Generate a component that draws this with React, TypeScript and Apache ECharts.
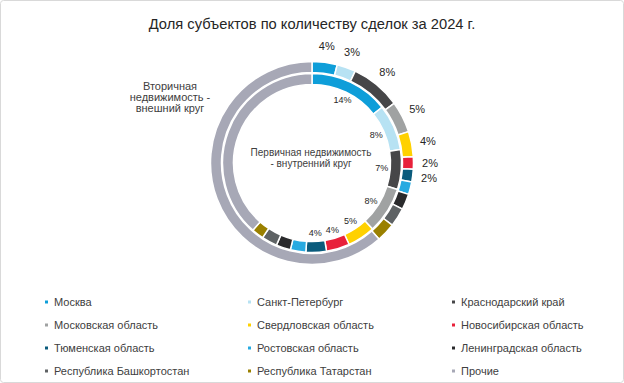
import React, { useEffect, useRef } from "react";
import * as echarts from "echarts";

const TITLE = "Доля субъектов по количеству сделок за 2024 г.";
const CATEGORIES = [
  "Москва",
  "Санкт-Петербург",
  "Краснодарский край",
  "Московская область",
  "Свердловская область",
  "Новосибирская область",
  "Тюменская область",
  "Ростовская область",
  "Ленинградская область",
  "Республика Башкортостан",
  "Республика Татарстан",
  "Прочие",
];
// Secondary market (outer ring), %
const SECONDARY = [4, 3, 8, 5, 4, 2, 2, 2, 2.5, 3, 3, 61.5];
// Primary market (inner ring), %
const PRIMARY = [14.3, 8.3, 7.2, 8.4, 5, 4.2, 3.7, 2.8, 2.6, 2.8, 2.2, 38.5];
const LABELED_COUNT = 7;
const COLORS = [
  "#0e9ed9",
  "#b7e2f3",
  "#464648",
  "#a0a2a2",
  "#ffd100",
  "#e8213a",
  "#0a5b7c",
  "#27aae1",
  "#2a2a2c",
  "#5e6264",
  "#9a8000",
  "#a7a8b6",
];
const LEGEND_COLUMNS = [
  [CATEGORIES[0], CATEGORIES[3], CATEGORIES[6], CATEGORIES[9]],
  [CATEGORIES[1], CATEGORIES[4], CATEGORIES[7], CATEGORIES[10]],
  [CATEGORIES[2], CATEGORIES[5], CATEGORIES[8], CATEGORIES[11]],
];
const OUTER_NOTE = "Вторичная\nнедвижимость -\nвнешний круг";
const INNER_NOTE = "Первичная недвижимость\n- внутренний круг";

const FONT = "'Liberation Sans', Arial, sans-serif";
const CENTER = [312, 163];

export default function App() {
  const ref = useRef<HTMLDivElement>(null);
  useEffect(() => {
    if (!ref.current) return;
    const chart = echarts.init(ref.current, null, { renderer: "svg" });
    const mk = (vals: number[]) =>
      CATEGORIES.map((name, i) => ({
        name,
        value: vals[i],
        itemStyle: { color: COLORS[i] },
      }));
    const ghost = (vals: number[]) =>
      CATEGORIES.map((name, i) => ({
        name,
        value: vals[i],
        itemStyle: { color: "rgba(0,0,0,0)" },
      }));
    const labelFmt = (p: any) =>
      p.dataIndex < LABELED_COUNT ? Math.round(p.value) + "%" : "";
    const ringCommon = {
      type: "pie",
      center: CENTER,
      startAngle: 90,
      clockwise: true,
      silent: true,
      legendHoverLink: false,
      label: { show: false },
      labelLine: { show: false },
      emphasis: { disabled: true },
      itemStyle: { borderColor: "#ffffff", borderWidth: 1.5 },
    };
    chart.setOption({
      animation: false,
      textStyle: { fontFamily: FONT },
      title: {
        text: TITLE,
        left: "center",
        top: 11,
        textStyle: {
          fontSize: 14.7,
          fontWeight: "normal",
          color: "#262626",
          fontFamily: FONT,
        },
      },
      legend: LEGEND_COLUMNS.map((col, k) => ({
        data: col,
        orient: "vertical",
        left: [38, 241, 445][k],
        top: 290,
        icon: "rect",
        itemWidth: 5,
        itemHeight: 5,
        itemGap: 9,
        selectedMode: false,
        textStyle: {
          fontSize: 11,
          color: "#404040",
          fontFamily: FONT,
          lineHeight: 14,
        },
      })),
      graphic: [
        {
          type: "rect",
          shape: { x: 0.5, y: 0.5, width: 623, height: 382, r: 3 },
          style: { fill: "none", stroke: "#d9d9d9", lineWidth: 1 },
          silent: true,
        },
        {
          type: "text",
          x: 170,
          y: 97,
          style: {
            text: OUTER_NOTE,
            fontSize: 11,
            lineHeight: 11,
            fontFamily: FONT,
            fill: "#404040",
            align: "center",
            verticalAlign: "middle",
          },
          silent: true,
        },
        {
          type: "text",
          x: 311,
          y: 158,
          style: {
            text: INNER_NOTE,
            fontSize: 10,
            lineHeight: 11,
            fontFamily: FONT,
            fill: "#404040",
            align: "center",
            verticalAlign: "middle",
          },
          silent: true,
        },
      ],
      series: [
        { ...ringCommon, name: "Вторичная", radius: [90.5, 101.5], data: mk(SECONDARY) },
        { ...ringCommon, name: "Первичная", radius: [78.5, 89.5], data: mk(PRIMARY) },
        {
          ...ringCommon,
          name: "labels-outer",
          radius: [106, 124],
          itemStyle: { borderWidth: 0 },
          data: ghost(SECONDARY),
          label: {
            show: true,
            position: "inside",
            formatter: labelFmt,
            fontSize: 11,
            color: "#262626",
            fontFamily: FONT,
          },
        },
        {
          ...ringCommon,
          name: "labels-inner",
          radius: [58, 76],
          itemStyle: { borderWidth: 0 },
          data: ghost(PRIMARY),
          label: {
            show: true,
            position: "inside",
            formatter: labelFmt,
            fontSize: 9,
            color: "#262626",
            fontFamily: FONT,
          },
        },
      ],
    });
    return () => chart.dispose();
  }, []);
  return (
    <div
      ref={ref}
      style={{ position: "fixed", left: 0, top: 0, width: 624, height: 383, background: "#fff" }}
    />
  );
}
